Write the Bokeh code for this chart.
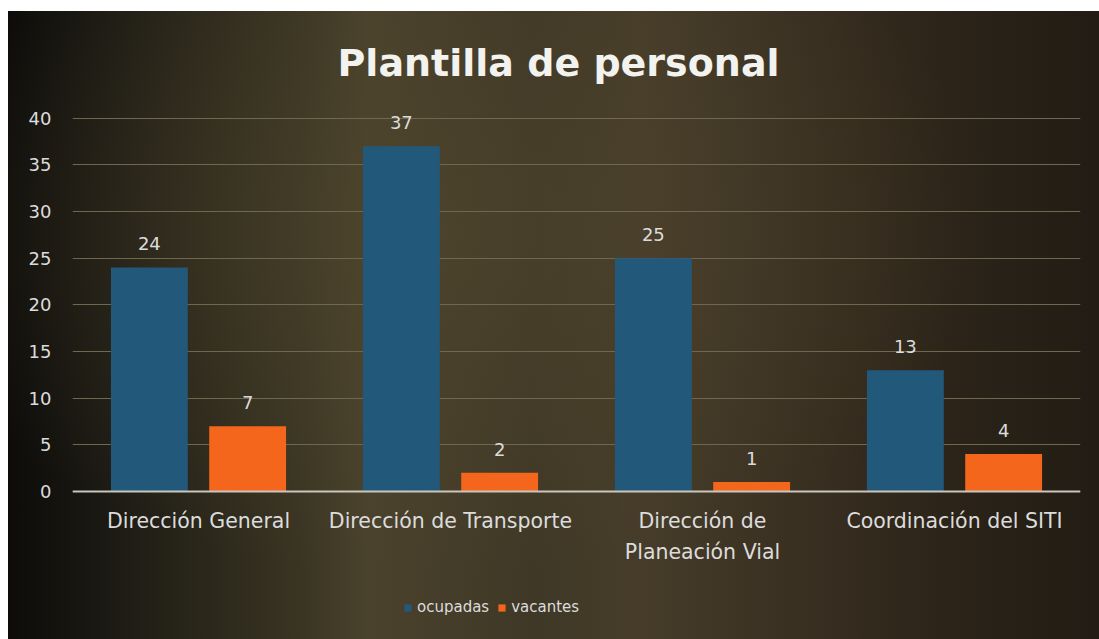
from bokeh.plotting import figure
from bokeh.models import ColumnDataSource, Legend, LegendItem, LabelSet, FactorRange
from bokeh.core.properties import value
from bokeh.transform import dodge
from bokeh.embed import file_html
from bokeh.resources import INLINE

categories = ["Dirección General", "Dirección de Transporte", "Dirección de\nPlaneación Vial", "Coordinación del SITI"]
ocupadas = [24, 37, 25, 13]
vacantes = [7, 2, 1, 4]
baseline = [0, 0, 0, 0]
y_ticks = [0, 5, 10, 15, 20, 25, 30, 35, 40]

BLUE = "#22597a"
ORANGE = "#f4661b"
TXT = "#dcdcdc"
FONT = "DejaVu Sans"

line1 = [c.split("\n")[0] for c in categories]
line2 = [c.split("\n")[1] if "\n" in c else "" for c in categories]

src = ColumnDataSource(dict(cat=categories, ocupadas=ocupadas, vacantes=vacantes, base=baseline,
                            ocl=[str(v) for v in ocupadas], vcl=[str(v) for v in vacantes],
                            l1=line1, l2=line2))

p = figure(x_range=FactorRange(*categories, range_padding=0), y_range=(-14.9, 42),
           frame_width=1008, frame_height=531, output_backend="svg", toolbar_location=None,
           x_axis_location=None,
           min_border_left=64, min_border_right=19, min_border_top=88, min_border_bottom=9)
p.margin = (11, 0, 0, 8)
p.styles = {"background-image":
            "radial-gradient(ellipse at 40% 35%, rgba(80,70,45,0.55) 0%, rgba(0,0,0,0) 60%),"
            "linear-gradient(90deg, #0d0c0a 0%, #1d1b14 10%, #3a3523 27%, #4a422c 33%, #3f3826 48%,"
            " #463c29 58%, #3a3022 72%, #2c2419 86%, #221c14 100%)"}

p.title.text = "Plantilla de personal"
p.title.align = "left"
p.title.offset = 265
p.title.text_font = "DejaVu Sans"
p.title.text_font_size = "38px"
p.title.text_font_style = "bold"
p.title.text_color = "#f2f2ee"
p.title.standoff = 29

p.background_fill_alpha = 0
p.border_fill_alpha = 0
p.outline_line_color = None

r1 = p.vbar(x=dodge("cat", -0.195, range=p.x_range), top="ocupadas", bottom="base", width=0.305,
            source=src, fill_color=BLUE, line_color=None)
r2 = p.vbar(x=dodge("cat", 0.195, range=p.x_range), top="vacantes", bottom="base", width=0.305,
            source=src, fill_color=ORANGE, line_color=None)

# baseline (category axis line)
p.hspan(y=baseline[:1], line_color="#c9c6bd", line_width=2)

for col, lab, off in [("ocupadas", "ocl", -0.195), ("vacantes", "vcl", 0.195)]:
    ls = LabelSet(x=dodge("cat", off, range=p.x_range), y=col, text=lab, source=src,
                  text_align="center", text_baseline="bottom", y_offset=17,
                  text_color=TXT, text_font=value(FONT), text_font_size="18px")
    p.add_layout(ls)

# category labels under the baseline (each line centred)
for field, yoff in [("l1", -18), ("l2", -49)]:
    p.add_layout(LabelSet(x="cat", y="base", text=field, source=src, text_align="center",
                          text_baseline="top", y_offset=yoff, text_color=TXT,
                          text_font=value(FONT), text_font_size="20.5px"))

p.yaxis.ticker = y_ticks
p.yaxis.axis_line_color = None
p.yaxis.major_tick_line_color = None
p.yaxis.major_tick_out = 0
p.yaxis.minor_tick_line_color = None
p.yaxis.major_label_text_color = TXT
p.yaxis.major_label_text_font = FONT
p.yaxis.major_label_text_font_size = "18px"
p.yaxis.major_label_standoff = 21

p.xgrid.grid_line_color = None
p.ygrid.grid_line_color = "#6e6850"
p.ygrid.grid_line_width = 1

legend = Legend(items=[LegendItem(label="ocupadas", renderers=[r1]),
                       LegendItem(label="vacantes", renderers=[r2])],
                orientation="horizontal", location=(331, 14),
                background_fill_alpha=0, border_line_color=None, padding=0, margin=0,
                label_text_color=TXT, label_text_font=FONT, label_text_font_size="15px",
                glyph_width=9, glyph_height=9, label_standoff=5, spacing=8)
p.add_layout(legend, "center")

open("out.html", "w").write(file_html(p, INLINE))
